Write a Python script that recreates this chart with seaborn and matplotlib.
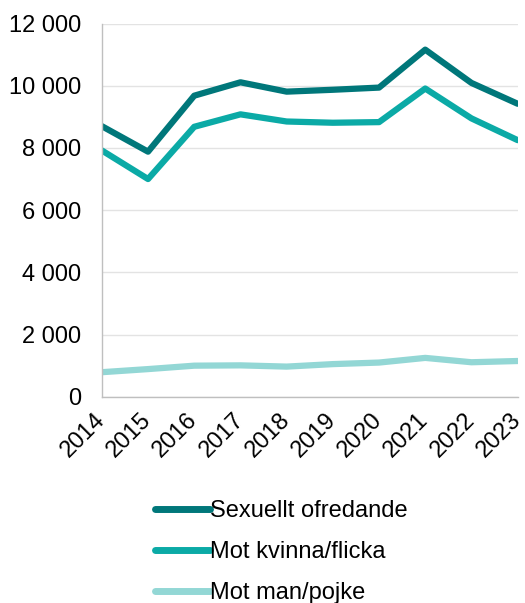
import pandas as pd
import matplotlib.pyplot as plt
import seaborn as sns
from matplotlib.ticker import FuncFormatter

# Data
years = [2014, 2015, 2016, 2017, 2018, 2019, 2020, 2021, 2022, 2023]
sexuellt_ofredande = [8700, 7880, 9680, 10110, 9810, 9870, 9940, 11160, 10090, 9420]
mot_kvinna_flicka = [7920, 7000, 8680, 9080, 8850, 8810, 8830, 9910, 8950, 8250]
mot_man_pojke = [790, 890, 1000, 1010, 970, 1050, 1100, 1250, 1110, 1150]

series_names = ["Sexuellt ofredande", "Mot kvinna/flicka", "Mot man/pojke"]
colors = ["#00777A", "#0BAAA6", "#93D7D5"]

df = pd.DataFrame({
    "ar": years * 3,
    "antal": sexuellt_ofredande + mot_kvinna_flicka + mot_man_pojke,
    "serie": [series_names[0]] * 10 + [series_names[1]] * 10 + [series_names[2]] * 10,
})

sns.set_style("white")
plt.rcParams["font.family"] = ["Liberation Sans", "DejaVu Sans"]
plt.rcParams["text.color"] = "black"

fig = plt.figure(figsize=(5.25, 6.03), dpi=100)
ax = fig.add_axes([0.194, 0.342, 0.792, 0.619])

sns.lineplot(data=df, x="ar", y="antal", hue="serie", hue_order=series_names,
             palette=colors, linewidth=4.5, ax=ax, legend=False)

ax.set_xlim(2014, 2023)
ax.set_ylim(0, 12000)
ax.set_yticks(range(0, 12001, 2000))
ax.yaxis.set_major_formatter(FuncFormatter(lambda v, p: f"{int(v):,}".replace(",", " ")))
ax.set_xticks(years)
ax.set_xticklabels([str(y) for y in years], rotation=45, ha="right", va="center",
                   rotation_mode="anchor")
ax.tick_params(axis="both", labelsize=17, colors="black")
ax.tick_params(axis="x", length=6, width=1, color="#BFBFBF", direction="out", pad=8)
ax.tick_params(axis="y", length=5, width=1, color="#BFBFBF", direction="out", pad=10)
ax.grid(axis="y", color="#E3E3E3", linewidth=1)
ax.set_axisbelow(True)
for side in ["top", "right"]:
    ax.spines[side].set_visible(False)
for side in ["left", "bottom"]:
    ax.spines[side].set_color("#BFBFBF")
    ax.spines[side].set_linewidth(1)
ax.set_xlabel("")
ax.set_ylabel("")

handles = [plt.Line2D([], [], color=c, linewidth=5, solid_capstyle="round") for c in colors]
fig.legend(handles, series_names, loc="upper left", bbox_to_anchor=(0.295, 0.170),
           frameon=False, fontsize=17, handlelength=2.35, handletextpad=0.0,
           labelspacing=0.8, borderaxespad=0, borderpad=0, labelcolor="black")

fig.savefig("out.png", dpi=100)
